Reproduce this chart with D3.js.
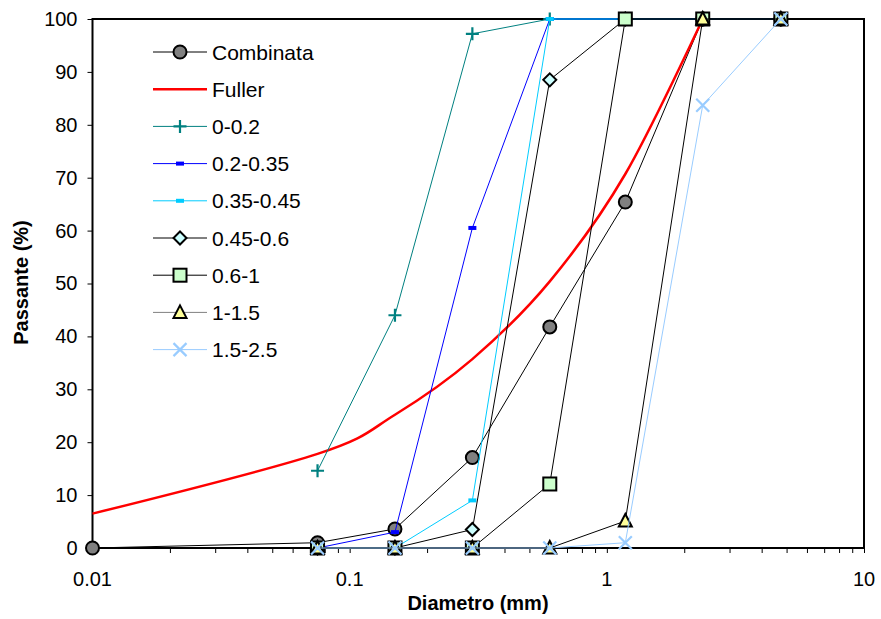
<!DOCTYPE html>
<html>
<head>
<meta charset="utf-8">
<script src="https://cdn.jsdelivr.net/npm/d3@7"></script>
<style>
  html, body { margin: 0; padding: 0; background: #fff; }
  svg { display: block; font-family: "Liberation Sans", Arial, sans-serif; }
</style>
</head>
<body>
<svg id="chart" width="881" height="619"></svg>
<script>
// Sieve openings (mm)
const sieves = [0.075, 0.15, 0.3, 0.6, 1.18, 2.36, 4.75];
// Combined grading includes a point at 0.01 mm
const combinataDiam = [0.01, 0.075, 0.15, 0.3, 0.6, 1.18, 2.36, 4.75];
const combinata = [0, 1.0, 3.6, 17.1, 41.8, 65.4, 100, 100];
// Fuller reference curve
const fullerDiam = [0.01, 0.075, 0.15, 0.3, 0.6, 1.18, 2.36];
const fuller = [6.5, 17.8, 25.2, 35.7, 50.4, 70.7, 100];
// Single fractions, passing (%) at each sieve
const frac_0_02 = [14.6, 44.0, 97.2, 100, 100, 100, 100];
const frac_02_035 = [0, 3.0, 60.5, 100, 100, 100, 100];
const frac_035_045 = [0, 0, 9.0, 100, 100, 100, 100];
const frac_045_06 = [0, 0, 3.5, 88.5, 100, 100, 100];
const frac_06_1 = [0, 0, 0, 12.1, 100, 100, 100];
const frac_1_15 = [0, 0, 0, 0, 5.1, 100, 100];
const frac_15_25 = [0, 0, 0, 0, 1.0, 83.7, 100];

const yTicks = [0, 10, 20, 30, 40, 50, 60, 70, 80, 90, 100];
const xTicks = [0.01, 0.1, 1, 10];

const series = [
  { name: "Combinata", x: combinataDiam, y: combinata, color: "#000", width: 1, marker: "circle", fill: "#808080" },
  { name: "Fuller", x: fullerDiam, y: fuller, color: "#ff0000", width: 2.5, marker: null, smooth: true },
  { name: "0-0.2", x: sieves, y: frac_0_02, color: "#008080", width: 1, marker: "plus" },
  { name: "0.2-0.35", x: sieves, y: frac_02_035, color: "#0000ff", width: 1, marker: "dash" },
  { name: "0.35-0.45", x: sieves, y: frac_035_045, color: "#00ccff", width: 1, marker: "dash" },
  { name: "0.45-0.6", x: sieves, y: frac_045_06, color: "#000", width: 1, marker: "diamond", fill: "#ccffff" },
  { name: "0.6-1", x: sieves, y: frac_06_1, color: "#000", width: 1, marker: "square", fill: "#ccffcc" },
  { name: "1-1.5", x: sieves, y: frac_1_15, color: "#000", legendColor: "#808080", width: 1, marker: "triangle", fill: "#ffff99" },
  { name: "1.5-2.5", x: sieves, y: frac_15_25, color: "#99ccff", width: 1, marker: "cross" }
];

const svg = d3.select("#chart");
const L = 92.5, R = 864, T = 19, B = 548;
const FONT = 20;

const x = d3.scaleLog().domain([0.01, 10]).range([L, R]);
const y = d3.scaleLinear().domain([0, 100]).range([B, T]);

// Y axis: outward ticks on the left
const yAxis = svg.append("g").attr("transform", `translate(${L},0)`)
  .call(d3.axisLeft(y).tickValues(yTicks).tickSize(5).tickPadding(10).tickFormat(d3.format("d")));
yAxis.select(".domain").remove();
yAxis.selectAll("line").attr("stroke", "#000");
yAxis.selectAll("text").attr("font-size", FONT).attr("fill", "#000")
  .attr("font-family", "Liberation Sans, Arial, sans-serif");

// X axis: major and minor ticks below the axis
const minorTicks = [];
for (let p = -2; p < 1; p++) for (let m = 1; m <= 9; m++) minorTicks.push(m * Math.pow(10, p));
minorTicks.push(10);
const xAxis = svg.append("g").attr("transform", `translate(0,${B})`)
  .call(d3.axisBottom(x).tickValues(minorTicks).tickSize(5).tickFormat(""));
xAxis.select(".domain").remove();
xAxis.selectAll("line").attr("stroke", "#000");
svg.append("g").selectAll("text").data(xTicks).join("text")
  .attr("x", d => x(d)).attr("y", 586)
  .attr("text-anchor", "middle").attr("font-size", FONT).text(d => String(d));

// Plot frame
svg.append("rect").attr("x", L).attr("y", T).attr("width", R - L).attr("height", B - T)
  .attr("fill", "none").attr("stroke", "#000").attr("stroke-width", 2);

// Axis titles
svg.append("text").attr("x", 478).attr("y", 610).attr("text-anchor", "middle")
  .attr("font-size", FONT).attr("font-weight", "bold").text("Diametro (mm)");
svg.append("text").attr("transform", "translate(28,282.5) rotate(-90)").attr("text-anchor", "middle")
  .attr("font-size", FONT).attr("font-weight", "bold").text("Passante (%)");

function drawMarker(g, type, cx, cy, s) {
  const sw = 2;
  switch (type) {
    case "circle":
      g.append("circle").attr("cx", cx).attr("cy", cy).attr("r", 6.5)
        .attr("fill", s.fill).attr("stroke", "#000").attr("stroke-width", sw);
      break;
    case "square":
      g.append("rect").attr("x", cx - 6.5).attr("y", cy - 6.5).attr("width", 13).attr("height", 13)
        .attr("fill", s.fill).attr("stroke", "#000").attr("stroke-width", sw);
      break;
    case "diamond":
      g.append("path").attr("d", `M${cx},${cy - 6.5}L${cx + 6.5},${cy}L${cx},${cy + 6.5}L${cx - 6.5},${cy}Z`)
        .attr("fill", s.fill).attr("stroke", "#000").attr("stroke-width", sw);
      break;
    case "triangle":
      g.append("path").attr("d", `M${cx},${cy - 7}L${cx + 6.5},${cy + 5.5}L${cx - 6.5},${cy + 5.5}Z`)
        .attr("fill", s.fill).attr("stroke", "#000").attr("stroke-width", sw).attr("stroke-linejoin", "miter");
      break;
    case "plus":
      g.append("path").attr("d", `M${cx - 6.5},${cy}H${cx + 6.5}M${cx},${cy - 6.5}V${cy + 6.5}`)
        .attr("stroke", s.color).attr("stroke-width", 2.2).attr("fill", "none");
      break;
    case "cross":
      g.append("path").attr("d", `M${cx - 6.5},${cy - 6.5}L${cx + 6.5},${cy + 6.5}M${cx - 6.5},${cy + 6.5}L${cx + 6.5},${cy - 6.5}`)
        .attr("stroke", s.color).attr("stroke-width", 2.2).attr("fill", "none");
      break;
    case "dash":
      g.append("rect").attr("x", cx - 4).attr("y", cy - 2).attr("width", 8).attr("height", 4)
        .attr("fill", s.color);
      break;
  }
}

// Series lines and markers, drawn in series order
const plot = svg.append("g");
series.forEach(s => {
  const pts = s.x.map((d, i) => [d, s.y[i]]);
  const line = d3.line().x(d => x(d[0])).y(d => y(d[1]))
    .curve(s.smooth ? d3.curveCardinal.tension(0) : d3.curveLinear);
  const g = plot.append("g");
  g.append("path").attr("d", line(pts)).attr("fill", "none")
    .attr("stroke", s.color).attr("stroke-width", s.width).attr("stroke-linejoin", "round");
  if (s.marker) pts.forEach(p => drawMarker(g, s.marker, x(p[0]), y(p[1]), s));
});

// Legend
const lg = svg.append("g");
series.forEach((s, i) => {
  const cy = 52 + i * 37.2;
  const g = lg.append("g");
  g.append("line").attr("x1", 153).attr("x2", 207).attr("y1", cy).attr("y2", cy)
    .attr("stroke", s.legendColor || s.color).attr("stroke-width", s.width);
  if (s.marker) drawMarker(g, s.marker, 180, cy, s);
  g.append("text").attr("x", 212).attr("y", cy + 7.5).attr("font-size", 21).text(s.name);
});
</script>
</body>
</html>
